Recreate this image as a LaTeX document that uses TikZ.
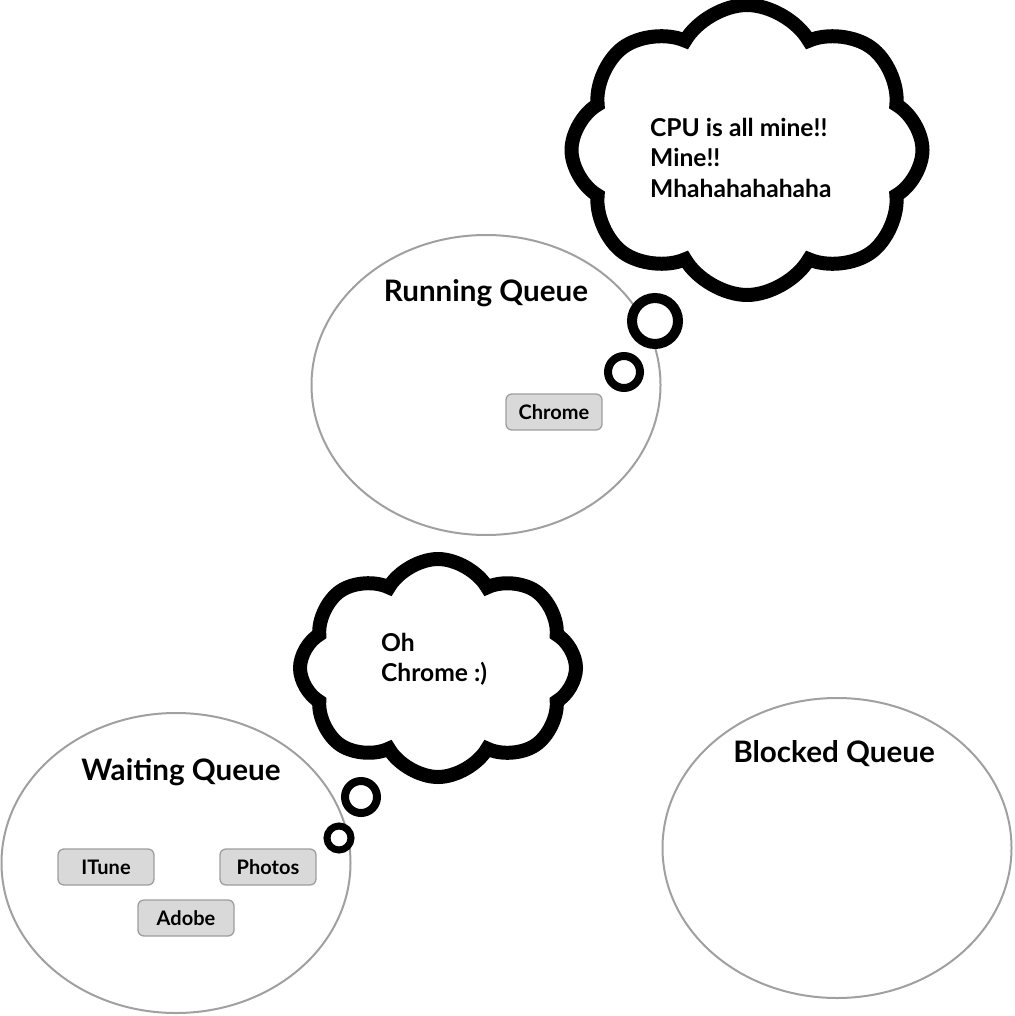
\documentclass[tikz,border=0pt]{standalone}
\usepackage{fontspec}
\setmainfont{Lato}
\usetikzlibrary{positioning,shapes.geometric,shapes.symbols}
\definecolor{qline}{HTML}{A0A0A0}
\definecolor{pfill}{HTML}{D9D9D9}
\definecolor{pline}{HTML}{9E9E9E}

\begin{document}
\begin{tikzpicture}[x=1pt, y=-1pt, q/.style={ellipse, draw=qline, line width=2pt, minimum width=349pt, minimum height=300pt, inner sep=0pt}, l/.style={inner sep=0pt, font=\fontsize{29.6}{35}\selectfont\bfseries}, p/.style={rectangle, rounded corners=6pt, draw=pline, fill=pfill, line width=1.3pt, minimum width=96pt, minimum height=36pt, font=\fontsize{20}{24}\selectfont\bfseries}, t/.style={cloud, cloud puffs=8, cloud puff arc=120, draw=black, fill=white, line width=14pt, inner sep=0pt}, b/.style={circle, draw=black, fill=white, inner sep=0pt}, m/.style={inner sep=0pt, align=left, font=\fontsize{24.6}{30.5}\selectfont\bfseries}]
		\useasboundingbox (0,0) rectangle (1014,1016);

		\node[q] (RQ) at (486,385) {};
		\node[l, below=45pt of RQ.north] (RQ_label) {Running Queue};
		\node[q] (WQ) at (176,863) {};
		\node[l, below=46pt of WQ.north, xshift=5pt] (WQ_label) {Waiting Queue};
		\node[q] (BQ) at (837,848) {};
		\node[l, below=43pt of BQ.north, xshift=-3pt] (BQ_label) {Blocked Queue};

		\node[p] (Chrome) at (554,412) {Chrome};
		\node[p] (ITune) at (106,867) {ITune};
		\node[p] (Photos) at (268,867) {Photos};
		\node[p] (Adobe) at (186,918) {Adobe};

		\node[t, minimum width=351pt, minimum height=290pt, aspect=1.22] (C1) at (747,150) {};
		\node[b, line width=10pt, minimum size=46pt] (C1_b1) at (655,321) {};
		\node[b, line width=8pt, minimum size=32pt] (C1_b2) at (624,372) {};
		\node[m, anchor=north west] (C1_text) at (650,118) {CPU is all mine!!\\Mine!!\\Mhahahahahaha};

		\node[t, minimum width=276pt, minimum height=218pt, aspect=1.28] (C2) at (438,668) {};
		\node[b, line width=8pt, minimum size=32pt] (C2_b1) at (361,797) {};
		\node[b, line width=7pt, minimum size=24pt] (C2_b2) at (339,838) {};
		\node[m, anchor=north west] (C2_text) at (381,633) {Oh\\Chrome :)};
	\end{tikzpicture}
\end{document}
